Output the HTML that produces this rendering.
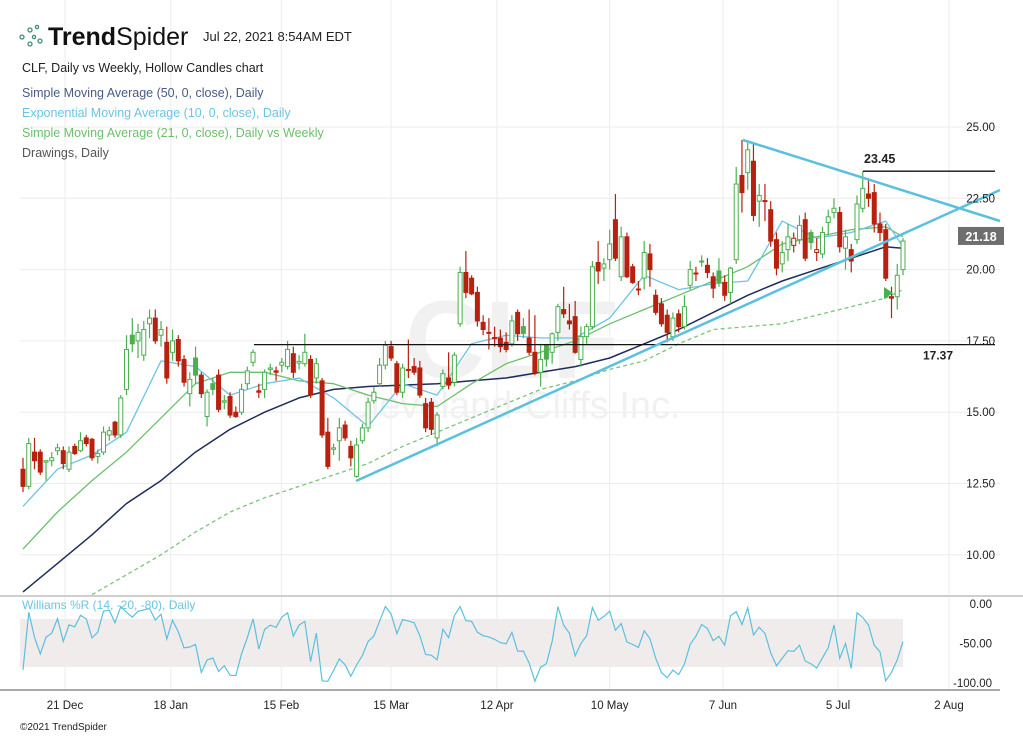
<!DOCTYPE html>
<html><head><meta charset="utf-8">
<style>
html,body{margin:0;padding:0;background:#fff;}
body{width:1023px;height:736px;overflow:hidden;font-family:"Liberation Sans",sans-serif;}
svg text{font-family:"Liberation Sans",sans-serif;}
</style></head>
<body>
<svg id="chart" width="1023" height="736" viewBox="0 0 1023 736" xmlns="http://www.w3.org/2000/svg">
  <g id="grid"></g>
  <g id="wm">
    <text x="512" y="378" font-size="110" font-weight="bold" fill="#f1f1f1" text-anchor="middle">CLF</text>
    <text x="512" y="418" font-size="38" fill="#f1f1f1" text-anchor="middle">Cleveland-Cliffs Inc.</text>
  </g>
  <rect x="20" y="619" width="883" height="48" fill="#f1ecec"/>
  <g id="mas"></g>
  <g id="candles"></g>
  <g id="draw"></g>
  <g id="wr"></g>
  <g id="axes"></g>
  <g>
    <g fill="none" stroke="#3a8f7a" stroke-width="1.3">
      <circle cx="22" cy="37" r="2"/><circle cx="30" cy="30" r="2"/><circle cx="30" cy="44" r="2"/><circle cx="37" cy="27" r="1.6"/><circle cx="40" cy="41" r="2"/><circle cx="34" cy="37" r="1.6"/>
    </g>
    <text x="48" y="45" font-size="25" fill="#111"><tspan font-weight="bold">Trend</tspan>Spider</text>
    <text x="203" y="41" font-size="13" fill="#222">Jul 22, 2021 8:54AM EDT</text>
    <text x="22" y="72" font-size="12.5" fill="#222">CLF, Daily vs Weekly, Hollow Candles chart</text>
    <text x="22" y="97" font-size="12.5" fill="#4a5a85">Simple Moving Average (50, 0, close), Daily</text>
    <text x="22" y="117" font-size="12.5" fill="#6cc4e4">Exponential Moving Average (10, 0, close), Daily</text>
    <text x="22" y="137" font-size="12.5" fill="#6cbf6c">Simple Moving Average (21, 0, close), Daily vs Weekly</text>
    <text x="22" y="157" font-size="12.5" fill="#555">Drawings, Daily</text>
  </g>
  <text x="22" y="609" font-size="12" fill="#6cc4e4">Williams %R (14, -20, -80), Daily</text>
  <text x="20" y="730" font-size="10" fill="#222">©2021 TrendSpider</text>
</svg>
<script>
const candles = [
[13.0,13.4,12.2,12.4],[12.4,14.1,12.3,13.9],[13.6,14.1,13.0,13.3],[13.6,13.7,12.8,12.9],[13.25,13.3,12.6,13.3],
[13.3,13.6,13.1,13.4],[13.65,13.9,13.5,13.75],[13.65,13.8,13.0,13.2],[13.0,13.8,12.9,13.6],[13.8,13.9,13.5,13.55],
[13.65,14.3,13.6,14.0],[14.1,14.2,13.8,13.9],[14.05,14.1,13.3,13.4],[13.45,13.7,13.2,13.55],[13.6,14.5,13.5,14.3],
[14.2,14.5,14.0,14.35],[14.65,14.7,14.1,14.2],[14.2,15.6,14.1,15.5],[15.8,17.7,15.6,17.2],[17.7,18.3,17.1,17.4],
[17.5,18.1,16.9,17.8],[17.0,18.2,16.8,17.9],[18.1,18.6,17.6,18.3],[18.3,18.6,17.4,17.5],[17.7,18.2,17.3,17.9],
[17.45,18.0,16.0,16.2],[17.1,17.9,16.8,17.5],[17.55,17.7,16.6,16.8],[16.85,17.0,15.9,16.05],[15.65,16.4,15.2,16.15],
[16.9,17.3,16.0,16.3],[16.3,16.4,15.5,15.65],[14.85,15.8,14.5,15.7],[16.0,16.2,15.6,15.8],[16.3,16.5,15.0,15.1],
[15.35,15.6,15.1,15.4],[15.55,15.7,14.8,14.9],[15.0,15.2,14.8,14.85],[15.0,16.0,14.9,15.8],[16.0,16.6,15.8,16.45],
[16.75,17.2,16.6,17.1],[15.75,16.0,15.5,15.7],[15.8,16.5,15.5,16.4],[16.5,16.7,16.3,16.55],[16.45,16.6,16.1,16.4],
[16.65,16.9,16.4,16.75],[16.6,17.5,16.5,17.2],[17.05,17.3,16.2,16.4],[16.72,17.0,16.5,16.78],[16.7,17.75,16.6,17.1],
[16.85,17.0,15.5,15.6],[16.2,16.9,16.0,16.7],[16.1,16.2,14.1,14.2],[14.3,14.8,13.0,13.1],[13.7,13.9,13.5,13.75],
[14.0,14.8,13.3,14.45],[14.55,14.7,14.0,14.1],[13.8,14.0,13.1,13.4],[12.75,14.1,12.7,13.85],[14.0,14.6,13.9,14.45],
[14.45,15.5,14.3,15.35],[15.4,15.9,15.3,15.7],[16.0,16.9,15.9,16.65],[16.65,17.5,16.5,17.35],[17.3,17.5,16.8,16.9],
[16.7,16.8,15.6,15.7],[15.7,16.7,15.5,16.55],[16.48,17.55,16.2,16.5],[16.6,16.9,16.3,16.4],[16.55,16.8,15.5,15.6],
[15.3,15.5,14.3,14.45],[15.35,15.5,14.2,14.4],[14.1,15.0,13.8,14.9],[15.9,16.5,15.8,16.35],[16.2,17.1,15.8,15.95],
[16.05,17.1,15.9,17.0],[18.1,20.1,18.0,19.9],[19.9,20.65,19.0,19.2],[19.7,19.8,19.1,19.15],[19.2,19.4,18.0,18.2],
[18.15,18.4,17.7,17.9],[17.78,18.3,17.2,17.8],[17.62,18.0,17.3,17.58],[17.6,17.9,17.1,17.3],[17.45,17.8,17.1,17.2],
[17.4,18.4,17.3,18.2],[18.5,18.6,17.5,17.75],[18.0,18.3,17.6,17.76],[17.6,18.6,17.0,17.1],[17.1,18.4,16.3,16.4],
[16.4,17.4,15.9,16.85],[17.35,17.4,16.6,16.86],[17.1,17.8,16.7,17.75],[17.8,18.8,17.5,18.7],[18.6,19.4,18.3,18.45],
[18.2,18.8,17.9,18.1],[18.35,18.9,17.05,17.1],[16.85,18.0,16.6,17.65],[17.65,18.1,17.4,18.0],[18.0,20.3,17.9,20.1],
[20.25,21.0,19.5,19.95],[20.05,20.4,19.6,20.2],[20.35,21.4,20.0,20.9],[21.75,22.65,20.3,20.4],[19.75,21.5,19.6,21.15],
[21.15,21.3,19.7,19.75],[20.1,20.2,19.5,19.55],[19.3,19.6,19.1,19.32],[19.7,21.0,19.3,20.6],[20.55,20.9,19.4,20.0],
[19.1,19.3,18.4,18.5],[18.8,19.0,18.0,18.1],[18.4,18.6,17.45,17.8],[17.65,18.5,17.5,18.3],[18.45,18.6,17.8,18.0],
[18.0,19.1,17.9,18.7],[19.45,20.3,19.3,20.0],[19.88,20.1,19.6,19.85],[20.28,20.5,20.1,20.3],[20.15,20.4,19.7,19.9],
[19.75,19.9,19.0,19.35],[19.95,20.4,19.4,19.55],[19.55,19.8,18.9,19.1],[19.2,20.1,18.8,20.05],[20.35,23.6,20.2,23.0],
[23.3,24.55,22.0,22.7],[23.4,24.5,22.8,24.2],[23.8,24.4,21.7,21.9],[22.4,23.0,21.5,22.6],[22.42,23.0,21.7,22.4],
[22.1,22.4,20.8,21.0],[21.05,21.3,19.8,20.05],[20.2,21.0,19.9,20.6],[20.7,21.6,20.3,21.15],[20.85,21.3,20.6,21.1],
[21.05,21.9,20.9,21.55],[21.75,22.0,20.3,20.4],[21.3,21.4,20.7,20.95],[20.6,21.1,20.3,20.7],[20.55,21.5,20.4,21.3],
[21.65,22.1,21.2,21.85],[22.0,22.5,21.8,22.15],[22.0,22.2,20.6,20.8],[20.75,21.4,20.0,21.15],[20.7,20.9,19.9,20.3],
[21.05,22.6,20.9,22.3],[22.15,23.45,22.0,22.85],[22.65,23.2,22.2,22.5],[22.7,23.0,21.3,21.6],[21.6,22.0,21.0,21.3],
[21.4,21.6,19.6,19.7],[19.05,19.4,18.3,19.0],[19.05,20.2,18.6,19.8],[20.0,21.1,19.8,21.0]
];
const sma50 = [8.7,9.7,10.7,11.8,12.6,13.6,14.4,15.0,15.5,15.8,15.9,15.95,16.0,16.1,16.2,16.4,16.6,16.9,17.4,17.9,18.5,19.1,19.6,20.0,20.4,20.8,20.75];
const ema10 = [11.7,13.0,13.5,14.3,16.8,16.6,15.6,16.0,16.2,15.5,14.5,16.0,15.6,17.4,17.7,17.6,17.6,18.3,19.8,19.3,19.5,19.6,21.7,21.1,21.3,21.7,20.8];
const sma21 = [10.2,11.5,12.6,13.6,14.8,16.0,16.4,16.4,16.1,16.0,15.6,15.3,15.2,16.0,16.7,17.1,17.5,18.1,18.6,19.1,19.6,20.1,20.9,21.15,21.4,21.5,21.15];
const sma21w = [null,null,8.6,9.3,10.0,10.8,11.5,12.0,12.4,12.8,13.2,13.8,14.3,14.8,15.3,15.8,16.1,16.5,16.8,17.4,17.9,18.0,18.1,18.4,18.7,19.0,19.3];
const maStep = 6;
const priceTicks = [25,22.5,20,17.5,15,12.5,10];
const wrTicks = [0,-50,-100];
const dateLabels = ["21 Dec","18 Jan","15 Feb","15 Mar","12 Apr","10 May","7 Jun","5 Jul","2 Aug"];
const dateIdx = [7.3,25.7,44.9,64.0,82.4,102.0,121.7,141.7,161.0];
const supportLevel = 17.37;
const resistLevel = 23.45;
const lastPrice = 21.18;

const NS="http://www.w3.org/2000/svg";
const X0=23, X1=903;
const N=candles.length;
function xs(i){return X0+i*(X1-X0)/(N-1);}
function ys(v){return 127+(25-v)*(71.3/2.5);}
function yw(v){return 604+(-v)*(79/100);}
function mk(tag,attrs,parent){const e=document.createElementNS(NS,tag);for(const k in attrs)e.setAttribute(k,attrs[k]);parent.appendChild(e);return e;}

const grid=document.getElementById('grid');
priceTicks.forEach(v=>{const l=mk('line',{x1:20,x2:1000,y1:ys(v),y2:ys(v),stroke:'#ececec','stroke-width':1},grid);

});
dateIdx.forEach(d=>{const l=mk('line',{x1:xs(d),x2:xs(d),y1:0,y2:690,stroke:'#ececec','stroke-width':1},grid);

});

const axes=document.getElementById('axes');
let sep=mk('line',{x1:0,x2:1023,y1:596,y2:596,stroke:'#cfcfcf','stroke-width':2},axes);


let bot=mk('line',{x1:0,x2:1000,y1:690,y2:690,stroke:'#555','stroke-width':1},axes);


priceTicks.forEach(v=>{const t=mk('text',{x:995,y:ys(v)+4,'font-size':11.5,fill:'#222','text-anchor':'end'},axes);t.textContent=v.toFixed(2);

});
wrTicks.forEach(v=>{const t=mk('text',{x:992,y:yw(v)+4,'font-size':11.5,fill:'#222','text-anchor':'end'},axes);t.textContent=v.toFixed(2);

});
dateLabels.forEach((s,k)=>{const t=mk('text',{x:xs(dateIdx[k]),y:709,'font-size':11.5,fill:'#222','text-anchor':'middle'},axes);t.textContent=s;

});

const mas=document.getElementById('mas');
function maLine(arr,color,w,dash,name){
  let pts=[];arr.forEach((v,k)=>{if(v!==null)pts.push(xs(Math.min(k*maStep,N-1)).toFixed(1)+','+ys(v).toFixed(1));});
  const p=mk('polyline',{points:pts.join(' '),fill:'none',stroke:color,'stroke-width':w,'stroke-linejoin':'round'},mas);
  if(dash)p.setAttribute('stroke-dasharray',dash);
  
  
}
maLine(sma21w,'#7cc47c',1.3,'4,3','sma21-weekly-line');
maLine(sma50,'#1e2d5a',1.5,null,'sma50-line');
maLine(sma21,'#6cbf6c',1.3,null,'sma21-line');
maLine(ema10,'#6cc4e4',1.3,null,'ema10-line');

const cg=document.getElementById('candles');
candles.forEach((c,i)=>{
  const [o,h,l,cl]=c;const prev=i>0?candles[i-1][3]:o;
  const col=cl>=prev?'#4caf50':'#b8200f';const hollow=cl>o;
  const x=xs(i);
  const g=mk('g',{},cg);
  
  
  const top=ys(Math.max(o,cl)),b=ys(Math.min(o,cl));
  mk('line',{x1:x,x2:x,y1:ys(h),y2:top,stroke:col,'stroke-width':1.2},g);
  mk('line',{x1:x,x2:x,y1:b,y2:ys(l),stroke:col,'stroke-width':1.2},g);
  mk('rect',{x:x-2,y:top,width:4,height:Math.max(1,b-top),fill:hollow?'#fff':col,stroke:col,'stroke-width':1},g);
});

const dg=document.getElementById('draw');
function ln(x1,y1,x2,y2,c,w,name){const e=mk('line',{x1:x1,y1:y1,x2:x2,y2:y2,stroke:c,'stroke-width':w},dg);

}
ln(254,ys(supportLevel),995,ys(supportLevel),'#111',1.3,'support-line');
ln(863,ys(resistLevel),995,ys(resistLevel),'#111',1.3,'resistance-line');
ln(356,481,1000,190,'#5bc0de',2.5,'rising-trendline');
ln(743,140,1000,221,'#5bc0de',2.5,'falling-trendline');
let t1=mk('text',{x:923,y:ys(supportLevel)+15,'font-size':12,'font-weight':'bold',fill:'#222'},dg);t1.textContent=supportLevel.toFixed(2);


let t2=mk('text',{x:864,y:ys(resistLevel)-8,'font-size':12.5,'font-weight':'bold',fill:'#222'},dg);t2.textContent=resistLevel.toFixed(2);


let ar=mk('path',{d:'M884,287 L893,293 L884,299 Z',fill:'#4caf50'},dg);


let pb=mk('rect',{x:958,y:ys(lastPrice)-9,width:46,height:18,fill:'#6e6e6e'},dg);


let pt=mk('text',{x:981,y:ys(lastPrice)+5,'font-size':12.5,'font-weight':'bold',fill:'#fff','text-anchor':'middle'},dg);pt.textContent=lastPrice.toFixed(2);



const wg=document.getElementById('wr');
let wpts=[];
for(let i=0;i<N;i++){let hh=-1e9,ll=1e9;for(let j=Math.max(0,i-13);j<=i;j++){hh=Math.max(hh,candles[j][1]);ll=Math.min(ll,candles[j][2]);}
  const w=hh===ll?-50:(hh-candles[i][3])/(hh-ll)*-100;wpts.push(xs(i).toFixed(1)+','+yw(w).toFixed(1));}
const wl=mk('polyline',{points:wpts.join(' '),fill:'none',stroke:'#5bc0de','stroke-width':1.2},wg);


</script>
</body></html>
